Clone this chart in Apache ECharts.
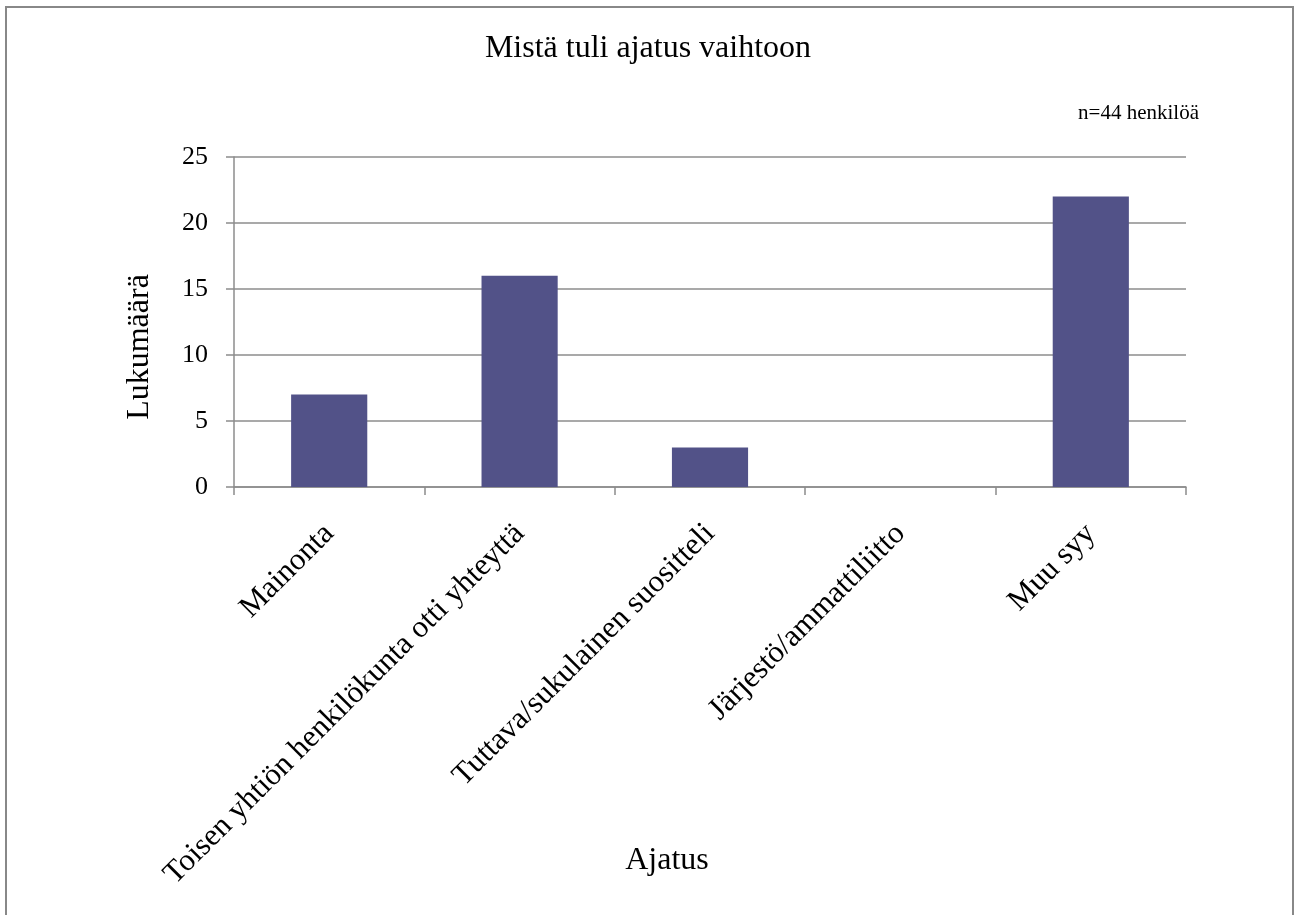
<!DOCTYPE html>
<html>
<head>
<meta charset="utf-8">
<script src="https://cdn.jsdelivr.net/npm/echarts@6/dist/echarts.min.js"></script>
<style>
  html, body { margin: 0; padding: 0; background: #fff; }
  #chart { width: 1296px; height: 915px; }
</style>
</head>
<body>
<div id="chart"></div>
<script>
// Source of the idea to switch, number of respondents per answer
const categories = [
  'Mainonta',
  'Toisen yhtiön henkilökunta otti yhteyttä',
  'Tuttava/sukulainen suositteli',
  'Järjestö/ammattiliitto',
  'Muu syy'
];
const counts = [7, 16, 3, 0, 22];
const yTicks = { min: 0, max: 25, interval: 5 };

const serif = '"Liberation Serif", "Times New Roman", serif';
const gridColor = '#8c8c8c';

const chart = echarts.init(document.getElementById('chart'));
chart.setOption({
  backgroundColor: '#fff',
  animation: false,
  title: [
    {
      text: 'Mistä tuli ajatus vaihtoon',
      left: 'center',
      top: 28,
      textStyle: { fontFamily: serif, fontSize: 32, fontWeight: 'normal', color: '#000' }
    },
    {
      text: 'n=44 henkilöä',
      right: 92,
      top: 98,
      textStyle: { fontFamily: serif, fontSize: 21, fontWeight: 'normal', color: '#000' }
    }
  ],
  graphic: [
    {
      type: 'rect',
      shape: { x: 6, y: 7, width: 1287, height: 930 },
      style: { fill: 'none', stroke: '#888', lineWidth: 2 },
      silent: true
    }
  ],
  grid: {
    left: 234, right: 110, top: 157, bottom: 428,
    containLabel: false,
    outerBoundsMode: 'none'
  },
  xAxis: {
    type: 'category',
    data: categories,
    name: 'Ajatus',
    nameLocation: 'middle',
    nameGap: 358,
    nameMoveOverlap: false,
    nameTextStyle: { fontFamily: serif, fontSize: 32, color: '#000', padding: [0, 86, 0, 0] },
    axisLine: { lineStyle: { color: gridColor, width: 1.5 } },
    axisTick: { show: true, length: 8, alignWithLabel: false, lineStyle: { color: gridColor, width: 1.5 } },
    axisLabel: {
      rotate: 45,
      interval: 0,
      margin: 42,
      fontFamily: serif,
      fontSize: 31,
      color: '#000'
    }
  },
  yAxis: {
    type: 'value',
    min: yTicks.min,
    max: yTicks.max,
    interval: yTicks.interval,
    name: 'Lukumäärä',
    nameLocation: 'middle',
    nameRotate: 90,
    nameGap: 78,
    nameMoveOverlap: false,
    nameTextStyle: { fontFamily: serif, fontSize: 32, color: '#000', padding: [0, 50, 0, 0] },
    axisLine: { show: true, lineStyle: { color: gridColor, width: 1.5 } },
    axisTick: { show: true, length: 8, inside: false, lineStyle: { color: gridColor, width: 1.5 } },
    axisLabel: { margin: 26, fontFamily: serif, fontSize: 26, color: '#000' },
    splitLine: { show: true, lineStyle: { color: gridColor, width: 1.5 } }
  },
  series: [
    {
      type: 'bar',
      data: counts,
      barWidth: '40%',
      itemStyle: { color: '#525288' }
    }
  ]
});
</script>
</body>
</html>
